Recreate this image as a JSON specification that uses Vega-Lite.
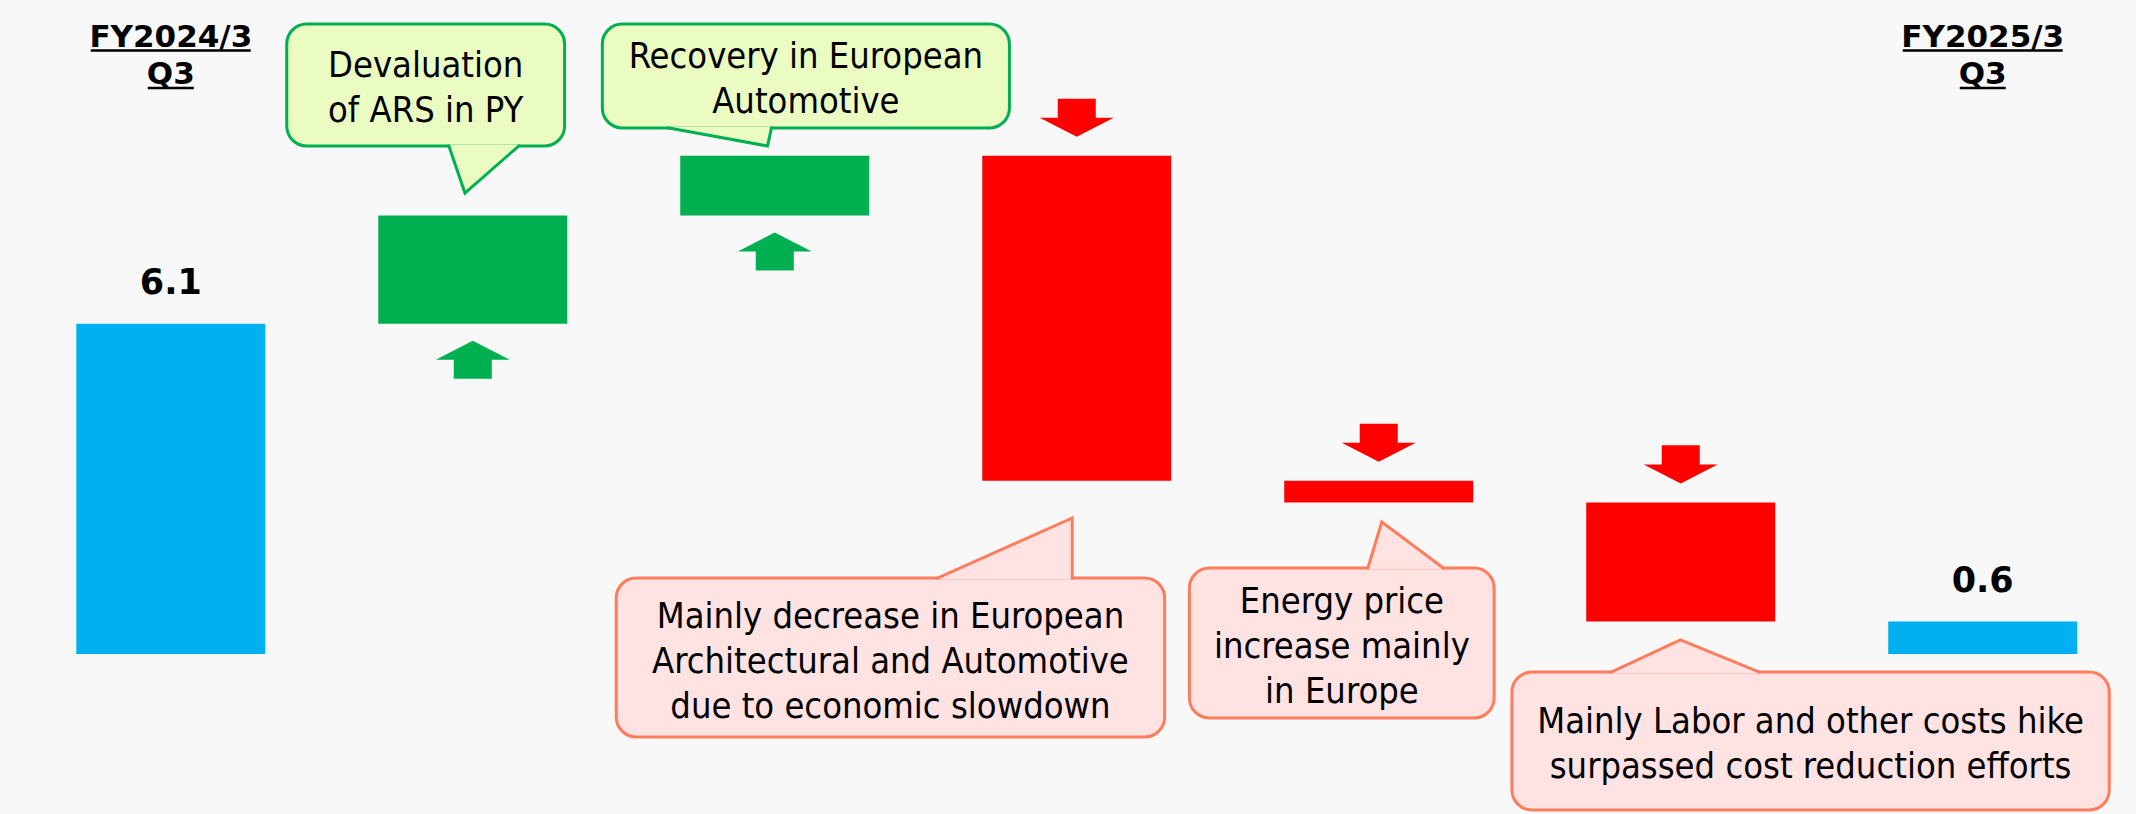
{
  "$schema": "https://vega.github.io/schema/vega-lite/v6.json",
  "width": 2136,
  "height": 814,
  "padding": 0,
  "autosize": {"type": "none"},
  "background": "#f8f8f8",
  "config": {"view": {"stroke": null}},
  "datasets": {
    "bars": [
      {"step": "FY2024/3 Q3", "pos": 0, "amount": 6.1, "start": 0, "end": 6.1, "kind": "total"},
      {"step": "Devaluation of ARS in PY", "pos": 1, "amount": 2.0, "start": 6.1, "end": 8.1, "kind": "increase"},
      {"step": "Recovery in European Automotive", "pos": 2, "amount": 1.1, "start": 8.1, "end": 9.2, "kind": "increase"},
      {"step": "Decrease in European Architectural and Automotive", "pos": 3, "amount": -6.0, "start": 9.2, "end": 3.2, "kind": "decrease"},
      {"step": "Energy price increase", "pos": 4, "amount": -0.4, "start": 3.2, "end": 2.8, "kind": "decrease"},
      {"step": "Labor and other costs hike", "pos": 5, "amount": -2.2, "start": 2.8, "end": 0.6, "kind": "decrease"},
      {"step": "FY2025/3 Q3", "pos": 6, "amount": 0.6, "start": 0, "end": 0.6, "kind": "total"}
    ],
    "headers": [
      {"pos": 0, "label": ["FY2024/3", "Q3"]},
      {"pos": 6, "label": ["FY2025/3", "Q3"]}
    ],
    "callouts": [
      {"id": 1, "kind": "up", "u1": 0.384, "u2": 1.304, "v1": 11.634, "v2": 9.381, "tx": 0.844, "ty": 10.656, "text": ["Devaluation", "of ARS in PY"]},
      {"id": 2, "kind": "up", "u1": 1.429, "u2": 2.777, "v1": 11.634, "v2": 9.714, "tx": 2.103, "ty": 10.822, "text": ["Recovery in European", "Automotive"]},
      {"id": 3, "kind": "down", "u1": 1.475, "u2": 3.291, "v1": 1.404, "v2": -1.533, "tx": 2.383, "ty": 0.48, "text": ["Mainly decrease in European", "Architectural and Automotive", "due to economic slowdown"]},
      {"id": 4, "kind": "down", "u1": 3.373, "u2": 4.382, "v1": 1.588, "v2": -1.182, "tx": 3.878, "ty": 0.757, "text": ["Energy price", "increase mainly", "in Europe"]},
      {"id": 5, "kind": "down", "u1": 4.441, "u2": 6.419, "v1": -0.332, "v2": -2.881, "tx": 5.43, "ty": -1.459, "text": ["Mainly Labor and other costs hike", "surpassed cost reduction efforts"]}
    ],
    "tails": [
      {"id": 1, "kind": "up", "k": 0, "u": 0.921, "v": 9.409},
      {"id": 1, "kind": "up", "k": 1, "u": 0.921, "v": 9.381},
      {"id": 1, "kind": "up", "k": 2, "u": 0.974, "v": 8.513},
      {"id": 1, "kind": "up", "k": 3, "u": 1.152, "v": 9.381},
      {"id": 1, "kind": "up", "k": 4, "u": 1.152, "v": 9.409},
      {"id": 2, "kind": "up", "k": 0, "u": 1.65, "v": 9.742},
      {"id": 2, "kind": "up", "k": 1, "u": 1.65, "v": 9.714},
      {"id": 2, "kind": "up", "k": 2, "u": 1.976, "v": 9.381},
      {"id": 2, "kind": "up", "k": 3, "u": 1.989, "v": 9.714},
      {"id": 2, "kind": "up", "k": 4, "u": 1.989, "v": 9.742},
      {"id": 3, "kind": "down", "k": 0, "u": 2.54, "v": 1.376},
      {"id": 3, "kind": "down", "k": 1, "u": 2.54, "v": 1.404},
      {"id": 3, "kind": "down", "k": 2, "u": 2.985, "v": 2.512},
      {"id": 3, "kind": "down", "k": 3, "u": 2.985, "v": 1.404},
      {"id": 3, "kind": "down", "k": 4, "u": 2.985, "v": 1.376},
      {"id": 4, "kind": "down", "k": 0, "u": 3.964, "v": 1.56},
      {"id": 4, "kind": "down", "k": 1, "u": 3.964, "v": 1.588},
      {"id": 4, "kind": "down", "k": 2, "u": 4.01, "v": 2.438},
      {"id": 4, "kind": "down", "k": 3, "u": 4.214, "v": 1.588},
      {"id": 4, "kind": "down", "k": 4, "u": 4.214, "v": 1.56},
      {"id": 5, "kind": "down", "k": 0, "u": 4.771, "v": -0.36},
      {"id": 5, "kind": "down", "k": 1, "u": 4.771, "v": -0.332},
      {"id": 5, "kind": "down", "k": 2, "u": 4.999, "v": 0.259},
      {"id": 5, "kind": "down", "k": 3, "u": 5.259, "v": -0.332},
      {"id": 5, "kind": "down", "k": 4, "u": 5.259, "v": -0.36}
    ]
  },
  "layer": [
    {
      "data": {"name": "bars"},
      "mark": {"type": "bar", "width": 189},
      "encoding": {
        "x": {"field": "pos", "type": "quantitative", "axis": null, "scale": {"domain": [-0.549, 6.491], "nice": false, "zero": false}},
        "y": {"field": "start", "type": "quantitative", "axis": null, "scale": {"domain": [-2.955, 12.078], "nice": false, "zero": false}},
        "y2": {"field": "end"},
        "color": {"field": "kind", "type": "nominal", "legend": null, "scale": {"domain": ["total", "increase", "decrease"], "range": ["#00b0f0", "#00b050", "#ff0000"]}}
      }
    },
    {
      "mark": {"type": "rule", "color": "#404040", "strokeWidth": 2},
      "encoding": {"y": {"datum": 0, "type": "quantitative", "scale": {"domain": [-2.955, 12.078], "nice": false, "zero": false}}}
    },
    {
      "data": {"name": "bars"},
      "transform": [{"filter": "datum.kind === 'increase'"}],
      "mark": {"type": "point", "filled": true, "opacity": 1, "strokeWidth": 0, "size": 5476, "yOffset": 36, "shape": "M0,-0.514 L1,0 L0.514,0 L0.514,0.514 L-0.514,0.514 L-0.514,0 L-1,0 Z"},
      "encoding": {
        "x": {"field": "pos", "type": "quantitative", "scale": {"domain": [-0.549, 6.491], "nice": false, "zero": false}},
        "y": {"field": "start", "type": "quantitative", "scale": {"domain": [-2.955, 12.078], "nice": false, "zero": false}},
        "color": {"field": "kind", "type": "nominal", "legend": null}
      }
    },
    {
      "data": {"name": "bars"},
      "transform": [{"filter": "datum.kind === 'decrease'"}],
      "mark": {"type": "point", "filled": true, "opacity": 1, "strokeWidth": 0, "size": 5476, "yOffset": -38, "shape": "M-0.514,-0.514 L0.514,-0.514 L0.514,0 L1,0 L0,0.514 L-1,0 L-0.514,0 Z"},
      "encoding": {
        "x": {"field": "pos", "type": "quantitative", "scale": {"domain": [-0.549, 6.491], "nice": false, "zero": false}},
        "y": {"field": "start", "type": "quantitative", "scale": {"domain": [-2.955, 12.078], "nice": false, "zero": false}},
        "color": {"field": "kind", "type": "nominal", "legend": null}
      }
    },
    {
      "data": {"name": "bars"},
      "transform": [{"filter": "datum.kind === 'total'"}],
      "mark": {"type": "text", "font": "DejaVu Sans", "fontWeight": "bold", "fontSize": 35, "dy": -30, "baseline": "alphabetic", "align": "center", "color": "#000000"},
      "encoding": {
        "x": {"field": "pos", "type": "quantitative", "scale": {"domain": [-0.549, 6.491], "nice": false, "zero": false}},
        "y": {"field": "end", "type": "quantitative", "scale": {"domain": [-2.955, 12.078], "nice": false, "zero": false}},
        "text": {"field": "amount", "type": "quantitative", "format": ".1f"}
      }
    },
    {
      "data": {"name": "headers"},
      "mark": {"type": "text", "font": "DejaVu Sans", "fontWeight": "bold", "fontSize": 31, "lineHeight": 37, "baseline": "alphabetic", "align": "center", "color": "#000000"},
      "encoding": {
        "x": {"field": "pos", "type": "quantitative", "scale": {"domain": [-0.549, 6.491], "nice": false, "zero": false}},
        "y": {"datum": 11.218, "type": "quantitative", "scale": {"domain": [-2.955, 12.078], "nice": false, "zero": false}},
        "text": {"field": "label"}
      }
    },
    {
      "data": {"name": "headers"},
      "mark": {"type": "tick", "orient": "horizontal", "size": 160, "thickness": 2.5, "color": "#000000", "opacity": 1},
      "encoding": {
        "x": {"field": "pos", "type": "quantitative", "scale": {"domain": [-0.549, 6.491], "nice": false, "zero": false}},
        "y": {"datum": 11.145, "type": "quantitative", "scale": {"domain": [-2.955, 12.078], "nice": false, "zero": false}}
      }
    },
    {
      "data": {"name": "headers"},
      "mark": {"type": "tick", "orient": "horizontal", "size": 46, "thickness": 2.5, "color": "#000000", "opacity": 1},
      "encoding": {
        "x": {"field": "pos", "type": "quantitative", "scale": {"domain": [-0.549, 6.491], "nice": false, "zero": false}},
        "y": {"datum": 10.452, "type": "quantitative", "scale": {"domain": [-2.955, 12.078], "nice": false, "zero": false}}
      }
    },
    {
      "data": {"name": "callouts"},
      "mark": {"type": "rect", "cornerRadius": 20, "strokeWidth": 3},
      "encoding": {
        "x": {"field": "u1", "type": "quantitative", "scale": {"domain": [-0.549, 6.491], "nice": false, "zero": false}},
        "x2": {"field": "u2"},
        "y": {"field": "v1", "type": "quantitative", "scale": {"domain": [-2.955, 12.078], "nice": false, "zero": false}},
        "y2": {"field": "v2"},
        "fill": {"field": "kind", "type": "nominal", "legend": null, "scale": {"domain": ["up", "down"], "range": ["#ebfcc3", "#ffe2e2"]}},
        "stroke": {"field": "kind", "type": "nominal", "legend": null, "scale": {"domain": ["up", "down"], "range": ["#00b050", "#ff7c5c"]}}
      }
    },
    {
      "data": {"name": "tails"},
      "transform": [{"filter": "datum.kind === 'up'"}],
      "mark": {"type": "line", "fill": "#ebfcc3", "stroke": "#00b050", "strokeWidth": 3, "strokeJoin": "miter", "strokeCap": "butt"},
      "encoding": {
        "x": {"field": "u", "type": "quantitative", "scale": {"domain": [-0.549, 6.491], "nice": false, "zero": false}},
        "y": {"field": "v", "type": "quantitative", "scale": {"domain": [-2.955, 12.078], "nice": false, "zero": false}},
        "order": {"field": "k", "type": "quantitative"},
        "detail": {"field": "id", "type": "nominal"}
      }
    },
    {
      "data": {"name": "tails"},
      "transform": [{"filter": "datum.kind === 'down'"}],
      "mark": {"type": "line", "fill": "#ffe2e2", "stroke": "#ff7c5c", "strokeWidth": 3, "strokeJoin": "miter", "strokeCap": "butt"},
      "encoding": {
        "x": {"field": "u", "type": "quantitative", "scale": {"domain": [-0.549, 6.491], "nice": false, "zero": false}},
        "y": {"field": "v", "type": "quantitative", "scale": {"domain": [-2.955, 12.078], "nice": false, "zero": false}},
        "order": {"field": "k", "type": "quantitative"},
        "detail": {"field": "id", "type": "nominal"}
      }
    },
    {
      "data": {"name": "callouts"},
      "mark": {"type": "text", "font": "DejaVu Sans Condensed", "fontSize": 36, "lineHeight": 45, "baseline": "alphabetic", "align": "center", "color": "#000000"},
      "encoding": {
        "x": {"field": "tx", "type": "quantitative", "scale": {"domain": [-0.549, 6.491], "nice": false, "zero": false}},
        "y": {"field": "ty", "type": "quantitative", "scale": {"domain": [-2.955, 12.078], "nice": false, "zero": false}},
        "text": {"field": "text"}
      }
    }
  ]
}
